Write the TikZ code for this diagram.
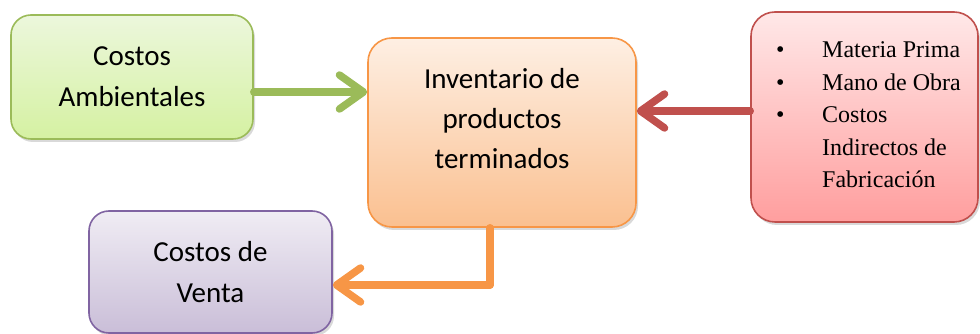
\documentclass[tikz,border=0pt]{standalone}
\usepackage{fontspec}
\setmainfont{Carlito}
\newfontfamily\listfont{Liberation Serif}
\usetikzlibrary{arrows.meta,shadows}

\definecolor{verdeB}{HTML}{9BBB59}
\definecolor{naranjaB}{HTML}{F79646}
\definecolor{rojoB}{HTML}{C0504D}
\definecolor{moradoB}{HTML}{8064A2}
\definecolor{verdeA}{HTML}{ECF7DC}
\definecolor{verdeC}{HTML}{D5F1A2}

\begin{document}
\begin{tikzpicture}[x=1pt,y=1pt,
    caja/.style={draw, line width=1.6pt, rounded corners=20pt, inner sep=0pt,
      align=center, font=\fontsize{29}{41}\selectfont,
      drop shadow={opacity=0.3, shadow xshift=2pt, shadow yshift=-3pt}},
    flecha/.style={line width=7.5pt, line cap=round, line join=round,
      -{Straight Barb[length=24pt,width=34pt,round]}}]

  \useasboundingbox (0,0) rectangle (980,334);

  \node[caja, draw=verdeB, top color=verdeA, bottom color=verdeC,
    minimum width=242pt, minimum height=124pt] (amb) at (132,257) {Costos\\Ambientales};
  \node[caja, draw=naranjaB, top color=naranjaB!15, bottom color=naranjaB!60,
    rounded corners=24pt, minimum width=268pt, minimum height=189pt] (inv) at (502,201.5) {};
  \node[align=center, font=\fontsize{29}{40}\selectfont] (invtxt) at (502,215) {Inventario de\\productos\\terminados};
  \node[caja, draw=rojoB, top color=red!9, bottom color=red!38,
    rounded corners=24pt, minimum width=227pt, minimum height=210pt] (mat) at (864.5,217) {};
  \node[anchor=base west, inner sep=0pt, font=\listfont\fontsize{24}{32.5}\selectfont] (lista) at (776,276)
    {\begin{tabular}[t]{@{}p{34pt}l@{}}
      \textbullet & Materia Prima\\
      \textbullet & Mano de Obra\\
      \textbullet & Costos\\
       & Indirectos de\\
       & Fabricación
    \end{tabular}};
  \node[caja, draw=moradoB, top color=moradoB!12, bottom color=moradoB!42,
    minimum width=243pt, minimum height=122pt] (venta) at (210.5,62) {Costos de\\Venta};

  % flechas
  \draw[flecha, verdeB] (amb.east |- 0,242) -- (inv.west |- 0,242);
  \draw[flecha, rojoB] (mat.west |- 0,223) -- (inv.east |- 0,223);
  \draw[flecha, naranjaB, -] (inv.south -| 490,0) -- (490,49);
  \draw[flecha, naranjaB] (490,49) -- (venta.east |- 0,49);

\end{tikzpicture}
\end{document}
